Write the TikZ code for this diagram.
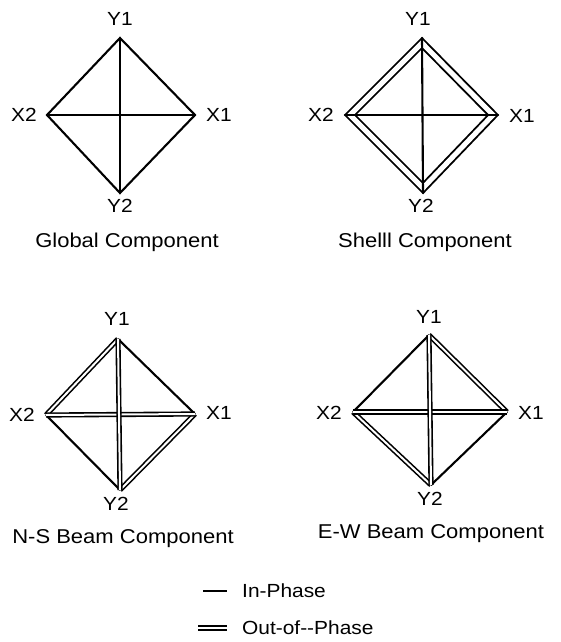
\documentclass[tikz,border=0pt]{standalone}
\usepackage{fontspec}
\setmainfont[FakeStretch=1.1]{Liberation Sans}
\usepackage{tikz}
\usetikzlibrary{calc}

\begin{document}
\begin{tikzpicture}[x=1pt, y=-1pt,
    inph/.style={line width=2.1pt, line cap=round},
    outph/.style={double, line width=1.6pt, double distance=2pt},
    shellph/.style={double, line width=1.9pt, double distance=5pt, line join=miter},
    lbl/.style={font=\fontsize{19}{21}\selectfont, inner sep=0pt},
    capt/.style={font=\fontsize{20}{22}\selectfont, inner sep=0pt}]
    \useasboundingbox (0,0) rectangle (561,642);

    % Global component: all in-phase
    \coordinate (g-y1) at (120,38);
    \coordinate (g-x1) at (195,115);
    \coordinate (g-x2) at (47,115);
    \coordinate (g-y2) at (120,193);
    \node[lbl] (g-ly1) at (120,19) {Y1};
    \node[lbl] (g-lx1) at (219,115) {X1};
    \node[lbl] (g-lx2) at (24,115) {X2};
    \node[lbl] (g-ly2) at (120,206) {Y2};
    \node[capt] (g-cap) at (127,242) {Global Component};
    \draw[inph] (g-y1) -- (g-x1) -- (g-y2) -- (g-x2) -- cycle;
    \draw[inph] (g-y1) -- (g-y2);
    \draw[inph] (g-x2) -- (g-x1);

    % Shell component: outer ring out-of-phase
    \coordinate (s-y1) at (422,38);
    \coordinate (s-x1) at (498,115);
    \coordinate (s-x2) at (345,115);
    \coordinate (s-y2) at (423,193);
    \node[lbl] (s-ly1) at (418,19) {Y1};
    \node[lbl] (s-lx1) at (522,116) {X1};
    \node[lbl] (s-lx2) at (321,115) {X2};
    \node[lbl] (s-ly2) at (421,206) {Y2};
    \node[capt] (s-cap) at (425,242) {Shelll Component};
    \draw[shellph] ($(s-y1)+(0,5)$) -- ($(s-x1)+(-5,0)$) -- ($(s-y2)+(0,-5)$) -- ($(s-x2)+(5,0)$) -- cycle;
    \draw[inph] (s-y1) -- (s-y2);
    \draw[inph] (s-x2) -- (s-x1);

    % N-S beam component
    \coordinate (n-y1) at (118,339);
    \coordinate (n-x1) at (195,414);
    \coordinate (n-x2) at (46,415);
    \coordinate (n-y2) at (120,490);
    \node[lbl] (n-ly1) at (117,319) {Y1};
    \node[lbl] (n-lx1) at (219,413) {X1};
    \node[lbl] (n-lx2) at (22,415) {X2};
    \node[lbl] (n-ly2) at (116,504) {Y2};
    \node[capt] (n-cap) at (123,539) {N-S Beam Component};
    \draw[inph] (n-y1) -- (n-x1);
    \draw[inph] (n-x2) -- (n-y2);
    \draw[outph] (n-y1) -- (n-x2);
    \draw[outph] (n-x1) -- (n-y2);
    \draw[outph] (n-x2) -- (n-x1);
    \draw[outph] (n-y1) -- (n-y2);

    % E-W beam component
    \coordinate (e-y1) at (429,335);
    \coordinate (e-x1) at (507,412);
    \coordinate (e-x2) at (353,412);
    \coordinate (e-y2) at (431,485);
    \node[lbl] (e-ly1) at (429,317) {Y1};
    \node[lbl] (e-lx1) at (531,413) {X1};
    \node[lbl] (e-lx2) at (329,413) {X2};
    \node[lbl] (e-ly2) at (430,499) {Y2};
    \node[capt] (e-cap) at (431,534) {E-W Beam Component};
    \draw[inph] (e-y1) -- (e-x2);
    \draw[inph] (e-x1) -- (e-y2);
    \draw[outph] (e-y1) -- (e-x1);
    \draw[outph] (e-x2) -- (e-y2);
    \draw[outph] (e-x2) -- (e-x1);
    \draw[outph] (e-y1) -- (e-y2);

    % Legend
    \coordinate (l-a1) at (203,591);
    \coordinate (l-a2) at (227,591);
    \coordinate (l-b1) at (198,628);
    \coordinate (l-b2) at (227,628);
    \draw[inph, line cap=butt] (l-a1) -- (l-a2);
    \draw[outph] (l-b1) -- (l-b2);
    \node[lbl, anchor=west] (l-in) at (242,591) {In-Phase};
    \node[lbl, anchor=west] (l-out) at (242,628) {Out-of-{}-Phase};
\end{tikzpicture}
\end{document}
